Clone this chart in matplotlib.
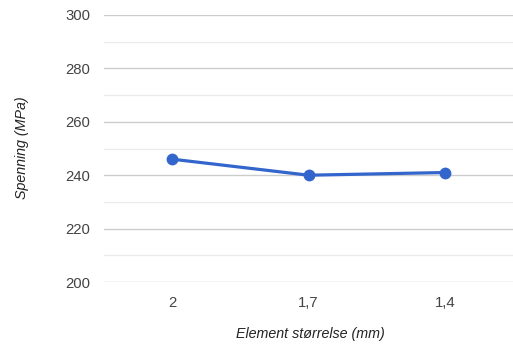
import matplotlib
matplotlib.use("Agg")
import matplotlib.pyplot as plt

categories = ["2", "1,7", "1,4"]
values = [246, 240, 241]
y_ticks = [200, 220, 240, 260, 280, 300]
y_minor = [210, 230, 250, 270, 290]

plt.rcParams['font.family'] = ['Liberation Sans', 'DejaVu Sans']

W, H = 513, 345
fig = plt.figure(figsize=(W/100, H/100), dpi=100)
left, right, top, bottom = 104, 513, 15, 282
ax = fig.add_axes([left/W, 1-bottom/H, (right-left)/W, (bottom-top)/H])

x = list(range(len(categories)))
ax.set_xlim(-0.5, len(categories)-0.5)
ax.set_ylim(200, 300)

for v in y_minor:
    ax.axhline(v, color='#ebebeb', lw=1, zorder=0)
for v in y_ticks:
    ax.axhline(v, color='#cccccc', lw=1, zorder=0)

ax.plot(x, values, color='#3366cc', lw=2.3, marker='o', markersize=7.5, zorder=3, clip_on=False)

ax.set_yticks(y_ticks)
ax.set_yticklabels([str(v) for v in y_ticks])
ax.set_xticks(x)
ax.set_xticklabels(categories)
ax.tick_params(axis='both', length=0, labelsize=10.7, labelcolor='#444444')
ax.tick_params(axis='y', pad=10)
ax.tick_params(axis='x', pad=10)
for s in ax.spines.values():
    s.set_visible(False)

fig.text(310/W, 1-334/H, "Element størrelse (mm)", ha='center', va='center',
         fontsize=10.3, style='italic', color='#222222')
fig.text(22/W, 1-148/H, "Spenning (MPa)", ha='center', va='center', rotation=90,
         fontsize=10.3, style='italic', color='#222222')

fig.savefig("out.png", dpi=100, facecolor='white')
